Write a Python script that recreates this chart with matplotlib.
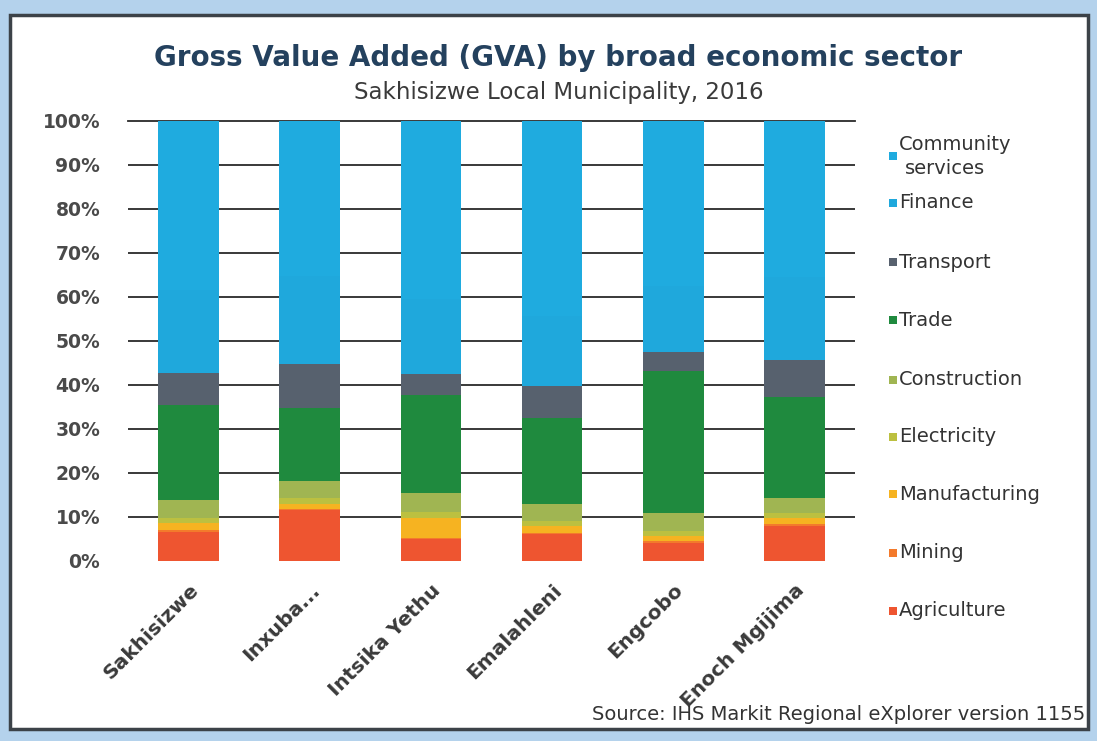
import numpy as np
import matplotlib
matplotlib.use("Agg")
import matplotlib.pyplot as plt
from matplotlib.patches import Rectangle

# GVA share by broad sector, % of municipal total
municipalities = ["Sakhisizwe", "Inxuba...", "Intsika Yethu", "Emalahleni", "Engcobo", "Enoch Mgijima"]
sectors = ["Agriculture", "Mining", "Manufacturing", "Electricity", "Construction",
           "Trade", "Transport", "Finance", "Community services"]

agriculture = [6.7, 11.5, 4.9, 6.1, 4.2, 8.0]
mining = [0.3, 0.3, 0.3, 0.3, 0.3, 0.3]
manufacturing = [1.6, 1.2, 4.5, 1.5, 1.1, 1.5]
electricity = [1.2, 1.3, 1.4, 1.2, 1.2, 1.1]
construction = [4.0, 3.9, 4.3, 3.8, 4.1, 3.4]
trade = [21.6, 16.6, 22.4, 19.6, 32.2, 23.0]
transport = [7.3, 10.0, 4.8, 7.2, 4.5, 8.3]
finance = [19.0, 20.0, 17.0, 16.0, 15.0, 19.0]
community = [38.3, 35.2, 40.4, 44.3, 37.4, 35.4]

series = [agriculture, mining, manufacturing, electricity, construction,
          trade, transport, finance, community]
colors = ["#ee5530", "#f37a2c", "#f6b321", "#bcc040", "#a0b552",
          "#1f8a3e", "#57616e", "#1fa8dc", "#1fabdf"]

W, H = 1097, 741
fig = plt.figure(figsize=(W / 100, H / 100), dpi=100)
fig.patch.set_facecolor("#b4d2ec")

# white chart area with a dark frame, kept behind the axes
frame = Rectangle((10 / W, 1 - 729 / H), 1078 / W, 714 / H, transform=fig.transFigure,
                  facecolor="white", edgecolor="#3c4248", linewidth=2.5, zorder=-5)
fig.patches.append(frame)

ax = fig.add_axes([128 / W, 1 - 561 / H, 727 / W, 440 / H])
ax.set_facecolor("none")
ax.set_zorder(2)

x = np.arange(len(municipalities))
bottom = np.zeros(len(municipalities))
for vals, col in zip(series, colors):
    ax.bar(x, vals, bottom=bottom, width=0.5, color=col, zorder=3, linewidth=0)
    bottom += np.array(vals)

ax.set_xlim(-0.5, len(municipalities) - 0.5)
ax.set_ylim(0, 100)
ax.set_yticks(np.arange(0, 101, 10))
ax.set_yticklabels([f"{v}%" for v in range(0, 101, 10)], fontsize=13.5,
                   fontweight="bold", color="#4a4a4a")
ax.yaxis.grid(True, color="#2a2a2a", linewidth=1.3, zorder=0)
gl = ax.get_ygridlines()
gl[0].set_visible(False)
gl[-1].set_clip_on(False)
ax.set_axisbelow(True)
ax.tick_params(axis="y", length=0, pad=20)
ax.tick_params(axis="x", length=0, pad=14)
ax.set_xticks(x)
ax.set_xticklabels(municipalities, rotation=45, ha="right", rotation_mode="anchor",
                   fontsize=14.5, fontweight="bold", color="#3a3a3a")
for s in ax.spines.values():
    s.set_visible(False)

fig.text(558 / W, 1 - 58 / H, "Gross Value Added (GVA) by broad economic sector",
         ha="center", va="center", fontsize=20, fontweight="bold", color="#24415e")
fig.text(559 / W, 1 - 92 / H, "Sakhisizwe Local Municipality, 2016",
         ha="center", va="center", fontsize=16.5, color="#3a3a3a")

# legend, top entry first
leg_y = [156, 203, 262, 320, 380, 437, 494, 553, 611]
leg_labels = ["Community\nservices"] + sectors[::-1][1:]
for lab, col, yy in zip(leg_labels, colors[::-1], leg_y):
    fig.patches.append(Rectangle((889 / W, 1 - (yy + 4) / H), 8 / W, 8 / H,
                                 transform=fig.transFigure, facecolor=col, edgecolor="none"))
    if "\n" in lab:
        fig.text(899 / W, 1 - 145 / H, "Community", ha="left", va="center",
                 fontsize=14, color="#333333")
        fig.text(905 / W, 1 - 168 / H, "services", ha="left", va="center",
                 fontsize=14, color="#333333")
    else:
        fig.text(899 / W, 1 - yy / H, lab, ha="left", va="center",
                 fontsize=14, color="#333333")

fig.text(1085 / W, 1 - 714 / H, "Source: IHS Markit Regional eXplorer version 1155",
         ha="right", va="center", fontsize=14, color="#333333")

fig.savefig("out.png", dpi=100, facecolor=fig.get_facecolor())
